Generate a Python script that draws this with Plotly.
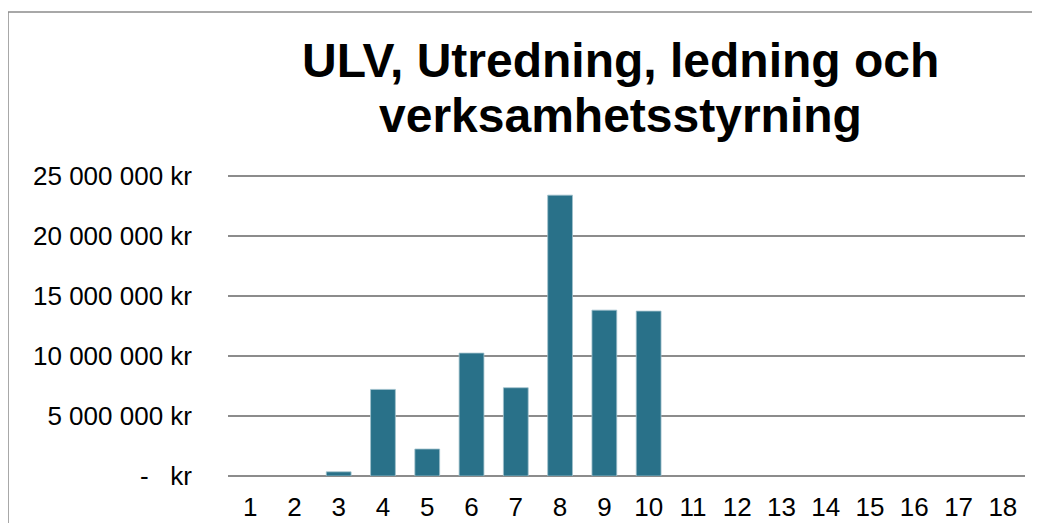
import plotly.graph_objects as go

# Data
categories = [str(i) for i in range(1, 19)]
amounts = [0, 0, 350000, 7220000, 2250000, 10250000, 7360000, 23420000,
           13830000, 13750000, 0, 0, 0, 0, 0, 0, 0, 0]
y_ticks = [0, 5000000, 10000000, 15000000, 20000000, 25000000]
y_ticktext = ['-\u00a0\u00a0\u00a0kr', '5 000 000 kr', '10 000 000 kr',
              '15 000 000 kr', '20 000 000 kr', '25 000 000 kr']
title_lines = ['ULV, Utredning, ledning och', 'verksamhetsstyrning']

BAR_COLOR = '#297189'
GRID_COLOR = '#8c8c8c'
FONT = 'Liberation Sans, Arial, sans-serif'

# the page body has an 8px margin, so the figure is a bit smaller than the window
W, H = 1032, 515
L, T, PW, PH = 220, 167, 797, 301
Y_TOP = 25100000  # a little headroom so the 25M gridline is drawn


def paper_y(px):
    return 1 + (T - px) / PH


def paper_x(px):
    return (px - L) / PW


fig = go.Figure()
fig.add_trace(go.Bar(
    x=categories,
    y=amounts,
    marker=dict(
        color=BAR_COLOR,
        # no outline on empty bars, otherwise they show as a stub on the zero line
        line=dict(color='#9fc0cc', width=[0.8 if v else 0 for v in amounts]),
    ),
    width=0.56,
))

fig.update_xaxes(
    type='category',
    automargin=False,
    showgrid=False,
    showline=False,
    ticks='',
    ticklabelstandoff=13,
    tickfont=dict(size=26, color='black', family=FONT),
)
fig.update_yaxes(
    range=[0, Y_TOP],
    automargin=False,
    tickvals=y_ticks,
    ticktext=y_ticktext,
    showgrid=True,
    gridcolor=GRID_COLOR,
    gridwidth=1.5,
    zeroline=True,
    zerolinecolor=GRID_COLOR,
    zerolinewidth=1.5,
    ticks='',
    ticklabelstandoff=35,
    tickfont=dict(size=26, color='black', family=FONT),
)

# two title lines placed separately to match the tight line spacing
for line, ypx in zip(title_lines, [52, 108]):
    fig.add_annotation(
        text='<b>' + line + '</b>',
        xref='paper', yref='paper',
        x=paper_x(612), y=paper_y(ypx),
        xanchor='center', yanchor='middle',
        showarrow=False,
        font=dict(size=48, color='black', family=FONT),
    )

# chart frame, its right and bottom edges fall outside the picture
fig.add_shape(
    type='rect', xref='paper', yref='paper',
    x0=paper_x(0), y0=-0.5, x1=1.2, y1=paper_y(4),
    line=dict(color=GRID_COLOR, width=1.5),
    fillcolor='rgba(0,0,0,0)',
    layer='below',
)

fig.update_layout(
    width=W,
    height=H,
    margin=dict(l=L, r=W - L - PW, t=T, b=H - T - PH, autoexpand=False),
    paper_bgcolor='white',
    plot_bgcolor='white',
    showlegend=False,
    font=dict(family=FONT, color='black'),
)

fig.write_html("out.html")
